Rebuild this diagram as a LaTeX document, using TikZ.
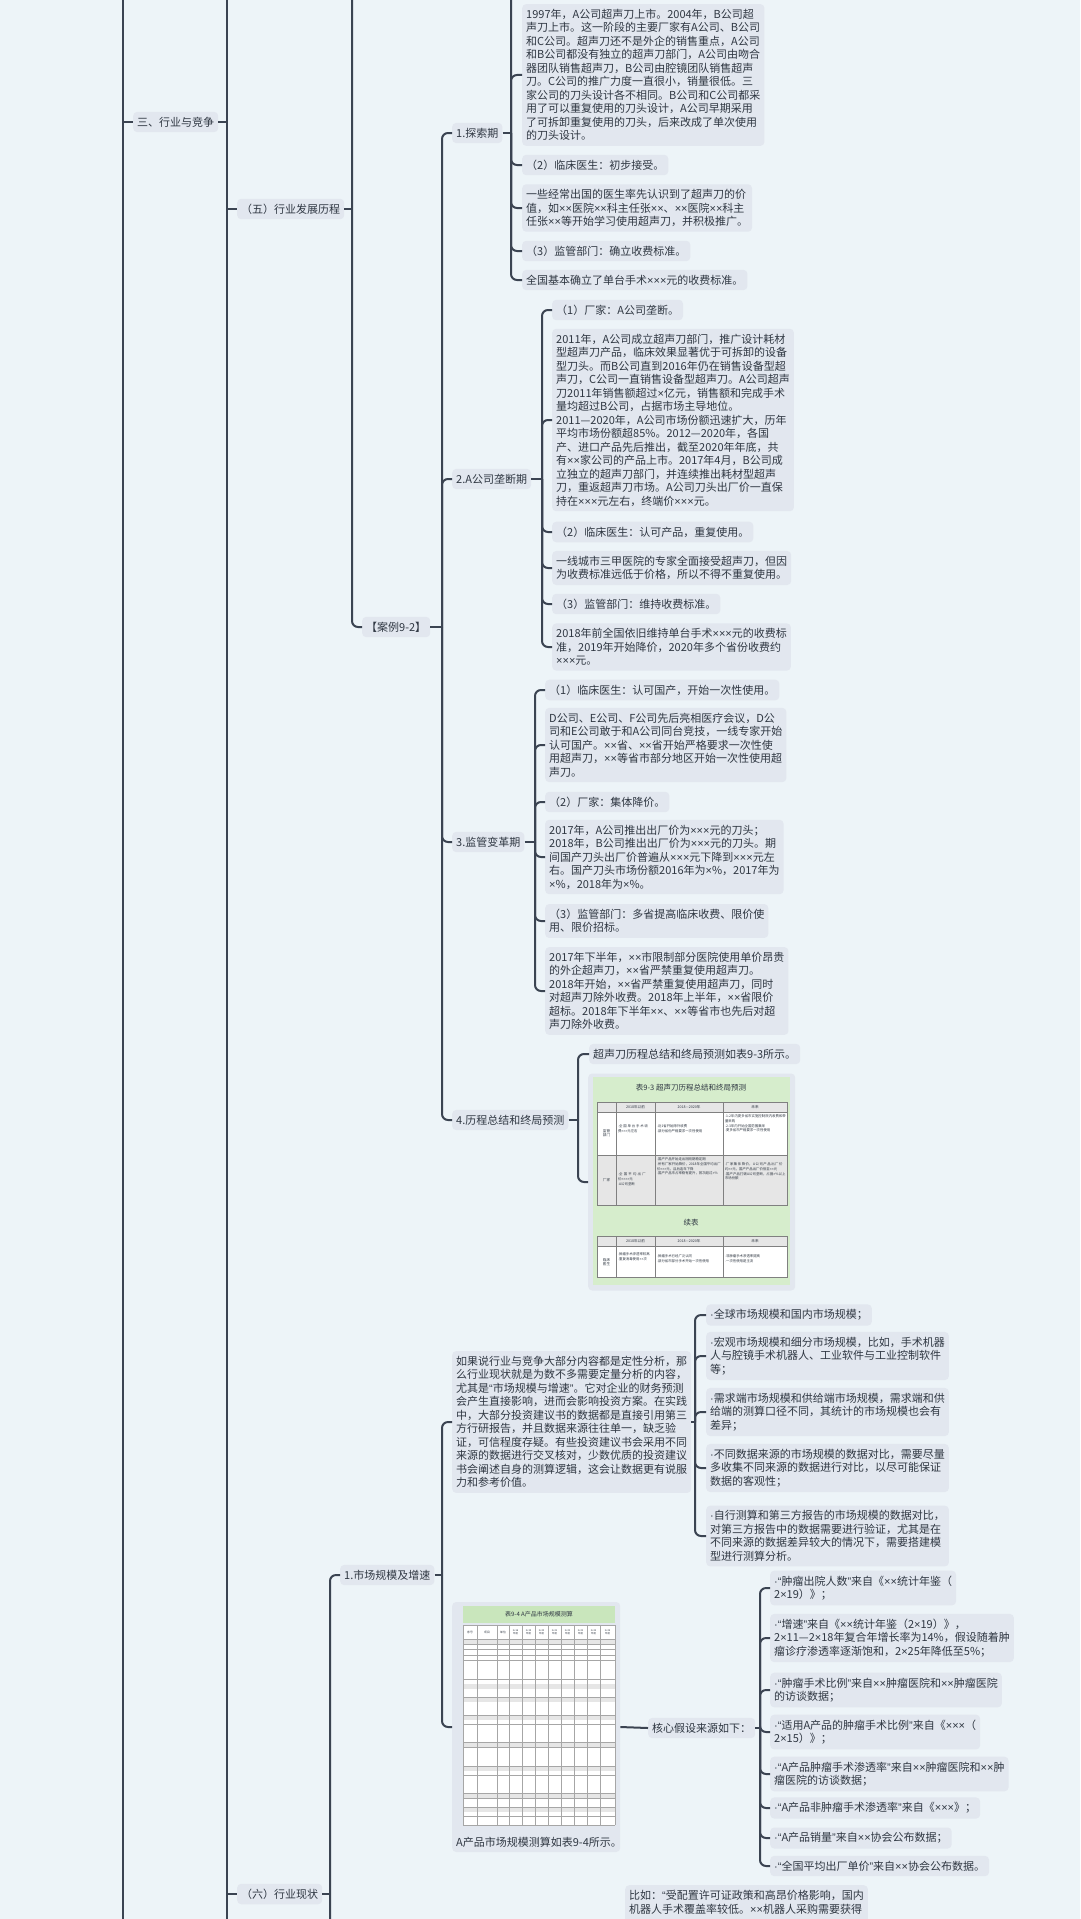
\documentclass[tikz,border=0pt]{standalone}
\usepackage{fontspec}
\setmainfont{Noto Sans CJK SC}
\newfontfamily\lat{Liberation Sans}
\XeTeXlinebreaklocale "zh"
\XeTeXlinebreakskip=0pt plus 1pt
\catcode`\×=\active \protected\def×{{\lat\symbol{"D7}}}
\catcode`\·=\active \protected\def·{{\lat\symbol{"B7}}}
\catcode`\“=\active \protected\def“{{\lat\symbol{"201C}}}
\catcode`\”=\active \protected\def”{{\lat\symbol{"201D}}}
\definecolor{bg}{HTML}{EDF4F8}
\definecolor{nf}{HTML}{E2E7EF}
\definecolor{ln}{HTML}{3B4452}
\definecolor{tx}{HTML}{2F3742}
\definecolor{gr}{HTML}{D6EDCC}
\definecolor{gh}{HTML}{C9E6BC}
\definecolor{cg}{HTML}{E6E6E6}
\begin{document}
\begin{tikzpicture}[x=1pt,y=-1pt,
  box/.style={fill=nf,rounded corners=4pt,inner xsep=4pt,inner ysep=5pt,anchor=west,align=left,text=tx,font=\fontsize{11}{13.5}\selectfont},
  conn/.style={draw=ln,line width=2pt,rounded corners=6pt},
  tiny/.style={font=\fontsize{3.4}{4.6}\selectfont,text=tx,inner sep=0.8pt,anchor=north west,align=left},
  th/.style={font=\fontsize{3.6}{4.6}\selectfont,text=tx,inner sep=0pt}]
\fill[bg] (0,0) rectangle (1080,1919);
\useasboundingbox (0,0) rectangle (1080,1919);
\coordinate (t123) at (123,0); \coordinate (b123) at (123,1919);
\coordinate (t227) at (227,0); \coordinate (b227) at (227,1919);
\coordinate (t352) at (352,0);
\coordinate (t511) at (511,0);
\coordinate (b330) at (330,1919);
\node[box] (s3) at (133,122) {三、行业与竞争};
\node[box] (w5) at (237,209) {（五）行业发展历程};
\node[box] (case) at (362,627) {【案例9-2】};
\node[box] (p1) at (452,133) {1.探索期};
\node[box] (p2) at (452,479) {2.A公司垄断期};
\node[box] (p3) at (452,842) {3.监管变革期};
\node[box] (p4) at (452,1120) {4.历程总结和终局预测};
\node[box] (w6) at (237,1894) {（六）行业现状};
\node[box] (m1) at (340,1575) {1.市场规模及增速};
\node[box] (a1) at (522,75) {1997年，A公司超声刀上市。2004年，B公司超\\声刀上市。这一阶段的主要厂家有A公司、B公司\\和C公司。超声刀还不是外企的销售重点，A公司\\和B公司都没有独立的超声刀部门，A公司由吻合\\器团队销售超声刀，B公司由腔镜团队销售超声\\刀。C公司的推广力度一直很小，销量很低。三\\家公司的刀头设计各不相同。B公司和C公司都采\\用了可以重复使用的刀头设计，A公司早期采用\\了可拆卸重复使用的刀头，后来改成了单次使用\\的刀头设计。};
\node[box] (a2) at (522,165) {（2）临床医生：初步接受。};
\node[box] (a3) at (522,208) {一些经常出国的医生率先认识到了超声刀的价\\值，如××医院××科主任张××、××医院××科主\\任张××等开始学习使用超声刀，并积极推广。};
\node[box] (a4) at (522,251) {（3）监管部门：确立收费标准。};
\node[box] (a5) at (522,280) {全国基本确立了单台手术×××元的收费标准。};
\node[box] (b1) at (552,310) {（1）厂家：A公司垄断。};
\node[box] (b2) at (552,420) {2011年，A公司成立超声刀部门，推广设计耗材\\型超声刀产品，临床效果显著优于可拆卸的设备\\型刀头。而B公司直到2016年仍在销售设备型超\\声刀，C公司一直销售设备型超声刀。A公司超声\\刀2011年销售额超过×亿元，销售额和完成手术\\量均超过B公司，占据市场主导地位。\\2011—2020年，A公司市场份额迅速扩大，历年\\平均市场份额超85\%。2012—2020年，各国\\产、进口产品先后推出，截至2020年年底，共\\有××家公司的产品上市。2017年4月，B公司成\\立独立的超声刀部门，并连续推出耗材型超声\\刀，重返超声刀市场。A公司刀头出厂价一直保\\持在×××元左右，终端价×××元。};
\node[box] (b4) at (552,532) {（2）临床医生：认可产品，重复使用。};
\node[box] (b5) at (552,568) {一线城市三甲医院的专家全面接受超声刀，但因\\为收费标准远低于价格，所以不得不重复使用。};
\node[box] (b6) at (552,604) {（3）监管部门：维持收费标准。};
\node[box] (b7) at (552,647) {2018年前全国依旧维持单台手术×××元的收费标\\准，2019年开始降价，2020年多个省份收费约\\×××元。};
\node[box] (c1) at (545,690) {（1）临床医生：认可国产，开始一次性使用。};
\node[box] (c2) at (545,745) {D公司、E公司、F公司先后亮相医疗会议，D公\\司和E公司敢于和A公司同台竞技，一线专家开始\\认可国产。××省、××省开始严格要求一次性使\\用超声刀，××等省市部分地区开始一次性使用超\\声刀。};
\node[box] (c3) at (545,802) {（2）厂家：集体降价。};
\node[box] (c4) at (545,857) {2017年，A公司推出出厂价为×××元的刀头；\\2018年，B公司推出出厂价为×××元的刀头。期\\间国产刀头出厂价普遍从×××元下降到×××元左\\右。国产刀头市场份额2016年为×\%，2017年为\\×\%，2018年为×\%。};
\node[box] (c5) at (545,921) {（3）监管部门：多省提高临床收费、限价使\\用、限价招标。};
\node[box] (c6) at (545,991) {2017年下半年，××市限制部分医院使用单价昂贵\\的外企超声刀，××省严禁重复使用超声刀。\\2018年开始，××省严禁重复使用超声刀，同时\\对超声刀除外收费。2018年上半年，××省限价\\超标。2018年下半年××、××等省市也先后对超\\声刀除外收费。};
\node[box] (d1) at (589,1054) {超声刀历程总结和终局预测如表9-3所示。};
\node[fill=nf,rounded corners=4pt,minimum width=207pt,minimum height=217pt,anchor=west,inner sep=0pt] (d2) at (588,1182) {};
\fill[gr] (593,1077) rectangle (790,1285);
\node[font=\fontsize{7.5}{9}\selectfont\itshape,text=tx] (d2t) at (691,1088) {表9-3 超声刀历程总结和终局预测};
\fill[white] (597,1102) rectangle (787,1205);
\fill[cg] (597,1102) rectangle (787,1112);
\fill[cg] (597,1155) rectangle (787,1205);
\draw[gray,line width=0.3pt] (597,1102) rectangle (787,1205) (597,1112)--(787,1112) (597,1155)--(787,1155)
  (616,1102)--(616,1205) (655,1102)--(655,1205) (723,1102)--(723,1205);
\node[th] (h1) at (635.5,1107) {2018年以前};
\node[th] (h2) at (689,1107) {2018—2020年};
\node[th] (h3) at (755,1107) {未来};
\node[th,align=center] (r1) at (606.5,1133) {监管\\部门};
\node[th] (r2) at (606.5,1180) {厂家};
\node[tiny,text width=36pt] (c11) at (617,1124) {·全国单台手术收费×××元左右};
\node[tiny,text width=64pt] (c12) at (656,1124) {·近1省开始除外收费\\·部分省份严格要求一次性使用};
\node[tiny,text width=61pt] (c13) at (724,1114) {·1-2年内更多省市实施控制院内收费和带量采购\\·2-3年内开始全国范围集采\\·更多省市严格要求一次性使用};
\node[tiny,text width=36pt] (c21) at (617,1172) {·全国平均出厂价××××元\\·A公司垄断};
\node[tiny,text width=64pt] (c22) at (656,1157) {·国产产品开始走出刚刚期稳定期\\·所有厂家开始降价，2018年全国平均出厂价×××元，且后连年下降\\·国产产品市占率稳有提升，首次超过×\%};
\node[tiny,text width=61pt] (c23) at (724,1162) {·厂家集体降价，A公司产品出厂价约××元，国产产品出厂价低至××元\\·国产产品打破A公司垄断，占据×\%以上市场份额};
\node[font=\fontsize{7.5}{9}\selectfont,text=tx] (xb) at (691,1223) {续表};
\fill[white] (597,1236) rectangle (787,1277);
\fill[cg] (597,1236) rectangle (787,1246);
\draw[gray,line width=0.3pt] (597,1236) rectangle (787,1277) (597,1246)--(787,1246)
  (616,1236)--(616,1277) (655,1236)--(655,1277) (723,1236)--(723,1277);
\node[th] (h4) at (635.5,1241) {2018年以前};
\node[th] (h5) at (689,1241) {2018—2020年};
\node[th] (h6) at (755,1241) {未来};
\node[th,align=center] (r3) at (606.5,1262) {临床\\医生};
\node[tiny,text width=36pt] (c31) at (617,1252) {·肿瘤手术渗透率较高\\·重复消毒使用××次};
\node[tiny,text width=64pt] (c32) at (656,1254) {·肿瘤手术已经广泛认同\\·部分省市部分手术开始一次性使用};
\node[tiny,text width=61pt] (c33) at (724,1254) {·非肿瘤手术渗透率提高\\·一次性使用是主流};
\node[box] (e1) at (452,1422) {如果说行业与竞争大部分内容都是定性分析，那\\么行业现状就是为数不多需要定量分析的内容，\\尤其是“市场规模与增速”。它对企业的财务预测\\会产生直接影响，进而会影响投资方案。在实践\\中，大部分投资建议书的数据都是直接引用第三\\方行研报告，并且数据来源往往单一，缺乏验\\证，可信程度存疑。有些投资建议书会采用不同\\来源的数据进行交叉核对，少数优质的投资建议\\书会阐述自身的测算逻辑，这会让数据更有说服\\力和参考价值。};
\node[box] (f1) at (706,1315) {·全球市场规模和国内市场规模；};
\node[box] (f2) at (706,1356) {·宏观市场规模和细分市场规模，比如，手术机器\\人与腔镜手术机器人、工业软件与工业控制软件\\等；};
\node[box] (f3) at (706,1412) {·需求端市场规模和供给端市场规模，需求端和供\\给端的测算口径不同，其统计的市场规模也会有\\差异；};
\node[box] (f4) at (706,1468) {·不同数据来源的市场规模的数据对比，需要尽量\\多收集不同来源的数据进行对比，以尽可能保证\\数据的客观性；};
\node[box] (f5) at (706,1536) {·自行测算和第三方报告的市场规模的数据对比，\\对第三方报告中的数据需要进行验证，尤其是在\\不同来源的数据差异较大的情况下，需要搭建模\\型进行测算分析。};
\node[fill=nf,rounded corners=4pt,minimum width=168pt,minimum height=250pt,anchor=west,inner sep=0pt] (e2) at (452,1727) {};
\fill[gh] (463,1606) rectangle (615,1623);
\node[font=\fontsize{6}{7}\selectfont\itshape,text=tx] (e2t) at (539,1614.5) {表9-4 A产品市场规模测算};
\fill[white] (463,1625) rectangle (615,1825);
\foreach \y in {1639,1684,1697,1715,1742,1766,1793,1807.5}
  {\fill[cg] (463,\y) rectangle (615,\y+4.5);}
\foreach \y in {1625,1639,1644,1649.5,1655,1660.5,1679,1697,1715,1724,1742,1747.5,1766,1775,1793,1798.5,1807.5,1816.5,1825}
  {\draw[gray!70,line width=0.3pt] (463,\y)--(615,\y);}
\foreach \x in {463,477,497,509,522,535,548,561,574,587,600,615}
  {\draw[gray!70,line width=0.3pt] (\x,1625)--(\x,1825);}
\node[th,font=\fontsize{2.8}{3.5}\selectfont] (t1) at (470,1632) {序号};
\node[th,font=\fontsize{2.8}{3.5}\selectfont] (t2) at (487,1632) {项目};
\node[th,font=\fontsize{2.8}{3.5}\selectfont] (t3) at (503,1632) {单位};
\foreach \i/\x in {18/515.5,19/528.5,20/541.5,21/554.5,22/567.5,23/580.5,24/593.5,25/607.5}
  {\node[th,font=\fontsize{2.4}{3}\selectfont,align=center] at (\x,1632) {2×\i\\年度};}
\node[box,fill=none] (e2c) at (452,1842) {A产品市场规模测算如表9-4所示。};
\node[box] (core) at (648,1728) {核心假设来源如下：};
\node[box] (g1) at (770,1588) {·“肿瘤出院人数”来自《××统计年鉴（\\2×19）》；};
\node[box] (g2) at (770,1638) {·“增速”来自《××统计年鉴（2×19）》，\\2×11—2×18年复合年增长率为14\%，假设随着肿\\瘤诊疗渗透率逐渐饱和，2×25年降低至5\%；};
\node[box] (g3) at (770,1690) {·“肿瘤手术比例”来自××肿瘤医院和××肿瘤医院\\的访谈数据；};
\node[box] (g4) at (770,1732) {·“适用A产品的肿瘤手术比例”来自《×××（\\2×15）》；};
\node[box] (g5) at (770,1774) {·“A产品肿瘤手术渗透率”来自××肿瘤医院和××肿\\瘤医院的访谈数据；};
\node[box] (g6) at (770,1808) {·“A产品非肿瘤手术渗透率”来自《×××》；};
\node[box] (g7) at (770,1838) {·“A产品销量”来自××协会公布数据；};
\node[box] (g8) at (770,1866) {·“全国平均出厂单价”来自××协会公布数据。};
\node[box,anchor=north west] (bz) at (625,1885) {比如：“受配置许可证政策和高昂价格影响，国内\\机器人手术覆盖率较低。××机器人采购需要获得\\\phantom{机}};
\draw[conn] (t123) -- (b123);
\draw[conn] (t227) -- (b227);
\draw[conn] (123,122) -- (s3.west);
\draw[conn] (s3.east) -- (227,122);
\draw[conn] (227,209) -- (w5.west);
\draw[conn] (227,1894) -- (w6.west);
\draw[conn] (w5.east) -- (352,209);
\draw[conn] (t352) |- (case.west);
\draw[conn] (case.east) -- (442,627);
\foreach \c in {p1,p2,p3,p4} {\draw[conn] (442,627) |- (\c.west);}
\draw[conn] (p1.east) -- (511,133);
\draw[conn] (t511) |- (a5.west);
\foreach \c in {a1,a2,a3,a4} {\draw[conn] (511,133) |- (\c.west);}
\draw[conn] (p2.east) -- (542,479);
\foreach \c in {b1,b2,b4,b5,b6,b7} {\draw[conn] (542,479) |- (\c.west);}
\draw[conn] (p3.east) -- (535,842);
\foreach \c in {c1,c2,c3,c4,c5,c6} {\draw[conn] (535,842) |- (\c.west);}
\draw[conn] (p4.east) -- (578,1120);
\foreach \c in {d1,d2} {\draw[conn] (578,1120) |- (\c.west);}
\draw[conn] (w6.east) -- (330,1894);
\draw[conn] (b330) |- (m1.west);
\draw[conn] (m1.east) -- (442,1575);
\foreach \c in {e1,e2} {\draw[conn] (442,1575) |- (\c.west);}
\draw[conn] (e1.east) -- (695,1422);
\foreach \c in {f1,f2,f3,f4,f5} {\draw[conn] (695,1422) |- (\c.west);}
\draw[conn] (e2.east) -- (core.west);
\draw[conn] (core.east) -- (760,1728);
\foreach \c in {g1,g2,g3,g4,g5,g6,g7,g8} {\draw[conn] (760,1728) |- (\c.west);}
\end{tikzpicture}
\end{document}
